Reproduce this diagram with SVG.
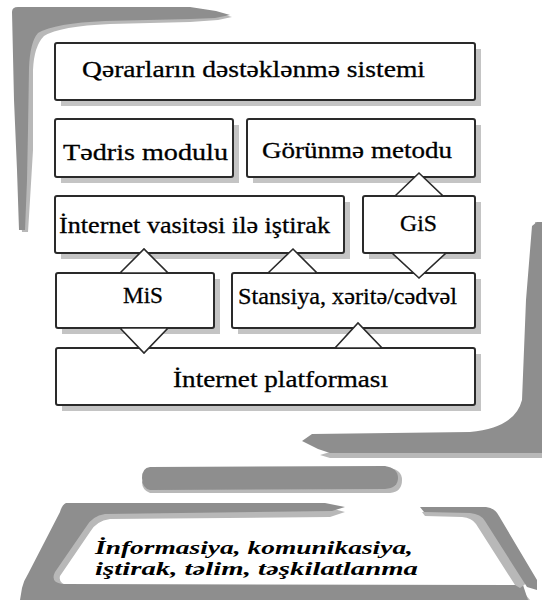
<svg xmlns="http://www.w3.org/2000/svg" width="542" height="600" viewBox="0 0 542 600">
<defs>
<style>
.box{fill:#fff;stroke:#2a2a2a;stroke-width:2}
.sh{fill:#c4c4c4}
.t{font-family:"Liberation Serif","Times New Roman",serif;font-size:24px;fill:#000;stroke:#000;stroke-width:0.3}
.it{font-family:"Liberation Serif","Times New Roman",serif;font-size:19px;font-weight:bold;font-style:italic;fill:#000}
.tri{fill:#fff;stroke:#2a2a2a;stroke-width:1.6;stroke-linejoin:miter}
.g1{fill:#8e8e8e}
.g2{fill:#b8b8b8}
</style>
</defs>
<rect width="542" height="600" fill="#fff"/>

<g id="brush">
<path class="g2" d="M14,14 Q14,9 20,9 L190,9 L218,13 L232,17 L218,20 L190,22 L110,24 Q60,26 44,36 Q34,46 33,70 L33,150 L30,200 L28,232 L22,232 L18,180 L16,100 Z"/>
<path class="g1" d="M12,12 Q12,7 18,7 L190,7 L216,11 L230,15 L215,18 L190,19 L105,21 Q55,23 38,33 Q30,42 29,68 L28,130 L27,180 L25,230 L19,230 L17,170 L14,100 Z"/>
<path class="g2" d="M542,222 L542,458 L330,458 L320,455 L330,452 L500,447 Q528,440 531,410 L532,300 L535,222 Z"/>
<path class="g1" d="M537,222 L542,222 L542,453 L330,453 L318,449 L302,441 L312,434 L470,432 Q515,428 522,400 L526,300 L532,226 Z"/>
<path class="g2" d="M150,470 L390,468 Q402,470 402,480 Q402,492 390,493 L150,493 Q142,490 142,482 Z"/>
<path class="g1" d="M150,467 L385,466 Q398,468 398,478 Q398,488 385,489 L150,490 Q142,488 142,478 Q142,468 150,467 Z"/>
<path class="g2" d="M70,509 L330,508 L345,512 L330,517 L110,519 Q96,521 90,532 L60,576 Q58,584 70,586 L520,588 L530,600 L22,600 Z"/>
<path class="g1" d="M66,503 L325,503 L345,507 L332,511 L105,514 Q92,516 86,527 L55,572 Q50,582 62,584 L523,585 L528,600 L20,600 L22,588 Q24,580 28,574 L60,512 Q62,505 66,503 Z"/>
<path class="g2" d="M422,512 L480,512 Q488,513 492,520 L528,582 L520,588 L515,585 L476,524 Q472,518 462,517 L425,516 Z"/>
<path class="g1" d="M420,507 L486,507 Q495,508 499,516 L537,580 L537,590 L527,587 L485,521 Q481,514 470,513 L424,512 Z"/>
</g>

<g id="shadows">
<rect class="sh" x="61" y="49" width="420" height="57"/>
<rect class="sh" x="61" y="125" width="178" height="58"/>
<rect class="sh" x="253" y="125" width="228" height="58"/>
<rect class="sh" x="61" y="202" width="289" height="57"/>
<rect class="sh" x="369" y="202" width="112" height="57"/>
<rect class="sh" x="62" y="279" width="158" height="55"/>
<rect class="sh" x="238" y="279" width="243" height="55"/>
<rect class="sh" x="62" y="354" width="419" height="57"/>
</g>

<g id="n1"><rect class="box" x="55" y="43" width="420" height="57" rx="2"/>
<text class="t" x="82" y="77" textLength="343" lengthAdjust="spacingAndGlyphs">Qərarların dəstəklənmə sistemi</text></g>
<g id="n2"><rect class="box" x="55" y="119" width="178" height="58" rx="2"/>
<text class="t" x="63" y="160" textLength="165" lengthAdjust="spacingAndGlyphs">Tədris modulu</text></g>
<g id="n3"><rect class="box" x="247" y="119" width="228" height="58" rx="2"/>
<text class="t" x="262" y="158" textLength="190" lengthAdjust="spacingAndGlyphs">Görünmə metodu</text></g>
<g id="n4"><rect class="box" x="55" y="196" width="289" height="57" rx="2"/>
<text class="t" x="59" y="233" textLength="271" lengthAdjust="spacingAndGlyphs">İnternet vasitəsi ilə iştirak</text></g>
<g id="n5"><rect class="box" x="363" y="196" width="112" height="57" rx="2"/>
<text class="t" x="400" y="231" textLength="37" lengthAdjust="spacingAndGlyphs">GiS</text></g>
<g id="n6"><rect class="box" x="56" y="273" width="158" height="55" rx="2"/>
<text class="t" x="123" y="303" textLength="40" lengthAdjust="spacingAndGlyphs">MiS</text></g>
<g id="n7"><rect class="box" x="232" y="273" width="243" height="55" rx="2"/>
<text class="t" x="238" y="304" textLength="219" lengthAdjust="spacingAndGlyphs">Stansiya, xəritə/cədvəl</text></g>
<g id="n8"><rect class="box" x="56" y="348" width="419" height="57" rx="2"/>
<text class="t" x="173" y="387" textLength="215" lengthAdjust="spacingAndGlyphs">İnternet platforması</text></g>

<g id="connectors">
<polygon class="tri" points="395,196 419,173 443,196"/>
<polygon class="tri" points="392,253 419,278 446,253"/>
<polygon class="tri" points="120,273 144,249 168,273"/>
<polygon class="tri" points="268,273 293,249 317,273"/>
<polygon class="tri" points="120,328 144,353 168,328"/>
<polygon class="tri" points="335,348 358,323 382,348"/>
</g>

<g id="caption">
<text class="it" x="95" y="554" textLength="318" lengthAdjust="spacingAndGlyphs">İnformasiya, komunikasiya,</text>
<text class="it" x="95" y="575" textLength="323" lengthAdjust="spacingAndGlyphs">iştirak, təlim, təşkilatlanma</text>
</g>
</svg>
